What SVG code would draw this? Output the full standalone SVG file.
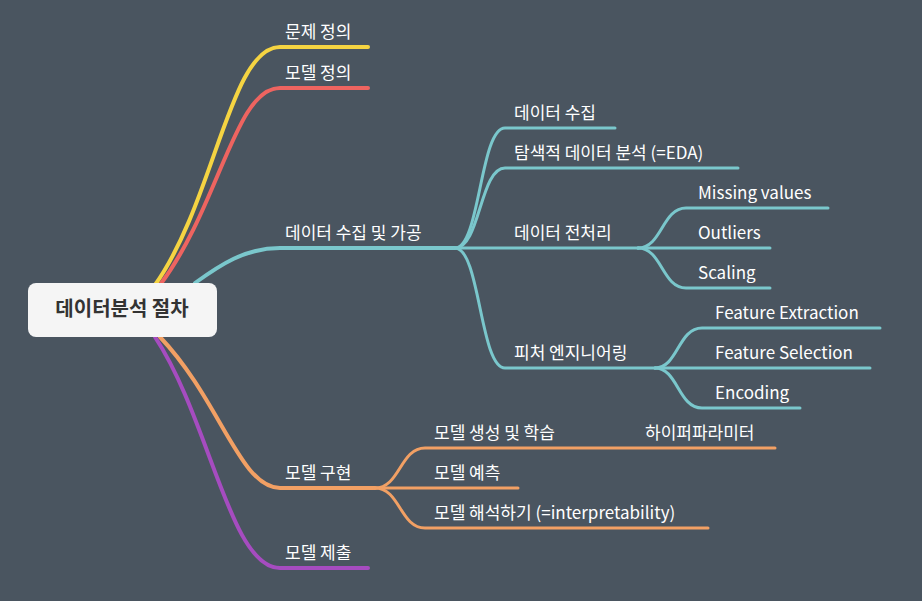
<svg xmlns="http://www.w3.org/2000/svg" width="922" height="601" viewBox="0 0 922 601">
<style>
.t{font-family:"Noto Sans CJK KR","Noto Sans",sans-serif;font-size:17px;fill:#ffffff}
.c{fill:none;stroke-linecap:round}
</style>
<rect width="922" height="601" fill="#4a5560"/>
<g id="connectors">
<path class="c" stroke="#f5d442" stroke-width="4" d="M155,285 C215,200 230,47 280,47 L368,47"/>
<path class="c" stroke="#ee6460" stroke-width="4" d="M160,285 C220,205 235,88 280,88 L368,88"/>
<path class="c" stroke="#7ac7cc" stroke-width="4" d="M195,283 C220,265 245,248 280,248 L455,248"/>
<path class="c" stroke="#f2a064" stroke-width="4" d="M160,337 C220,400 240,488 280,488 L375,488"/>
<path class="c" stroke="#a64cc0" stroke-width="4" d="M155,337 C210,420 230,568 280,568 L368,568"/>
<g stroke="#7ac7cc" stroke-width="3" class="c">
<path d="M455,248 C480,248 480,128 505,128 L615,128"/>
<path d="M455,248 C480,248 480,168 505,168 L738,168"/>
<path d="M455,248 L638,248"/>
<path d="M455,248 C480,248 480,368 505,368 L655,368"/>
<path d="M638,248 C662,248 662,208 686,208 L828,208"/>
<path d="M638,248 L770,248"/>
<path d="M638,248 C662,248 662,288 686,288 L770,288"/>
<path d="M655,368 C678,368 678,328 702,328 L880,328"/>
<path d="M655,368 L870,368"/>
<path d="M655,368 C678,368 678,408 702,408 L800,408"/>
</g>
<g stroke="#f2a064" stroke-width="3" class="c">
<path d="M375,488 C400,488 400,448 425,448 L775,448"/>
<path d="M375,488 L518,488"/>
<path d="M375,488 C400,488 400,528 425,528 L708,528"/>
</g>
</g>
<g id="root">
<rect x="28" y="283" width="189" height="54" rx="8" fill="#f5f5f5"/>
<text x="122" y="316" text-anchor="middle" font-family="Noto Sans CJK KR,sans-serif" font-size="20" font-weight="bold" fill="#333">데이터분석 절차</text>
</g>
<g id="n1"><text class="t" x="285" y="38">문제 정의</text></g>
<g id="n2"><text class="t" x="285" y="79">모델 정의</text></g>
<g id="n3"><text class="t" x="285" y="239">데이터 수집 및 가공</text></g>
<g id="n31"><text class="t" x="514" y="119">데이터 수집</text></g>
<g id="n32"><text class="t" x="514" y="159">탐색적 데이터 분석 (=EDA)</text></g>
<g id="n33"><text class="t" x="514" y="239">데이터 전처리</text></g>
<g id="n331"><text class="t" x="698" y="199">Missing values</text></g>
<g id="n332"><text class="t" x="698" y="239">Outliers</text></g>
<g id="n333"><text class="t" x="698" y="279">Scaling</text></g>
<g id="n34"><text class="t" x="514" y="359">피처 엔지니어링</text></g>
<g id="n341"><text class="t" x="715" y="319">Feature Extraction</text></g>
<g id="n342"><text class="t" x="715" y="359">Feature Selection</text></g>
<g id="n343"><text class="t" x="715" y="399">Encoding</text></g>
<g id="n4"><text class="t" x="285" y="479">모델 구현</text></g>
<g id="n41"><text class="t" x="434" y="439">모델 생성 및 학습</text></g>
<g id="n411"><text class="t" x="645" y="439">하이퍼파라미터</text></g>
<g id="n42"><text class="t" x="434" y="479">모델 예측</text></g>
<g id="n43"><text class="t" x="434" y="519">모델 해석하기 (=interpretability)</text></g>
<g id="n5"><text class="t" x="285" y="559">모델 제출</text></g>
</svg>
